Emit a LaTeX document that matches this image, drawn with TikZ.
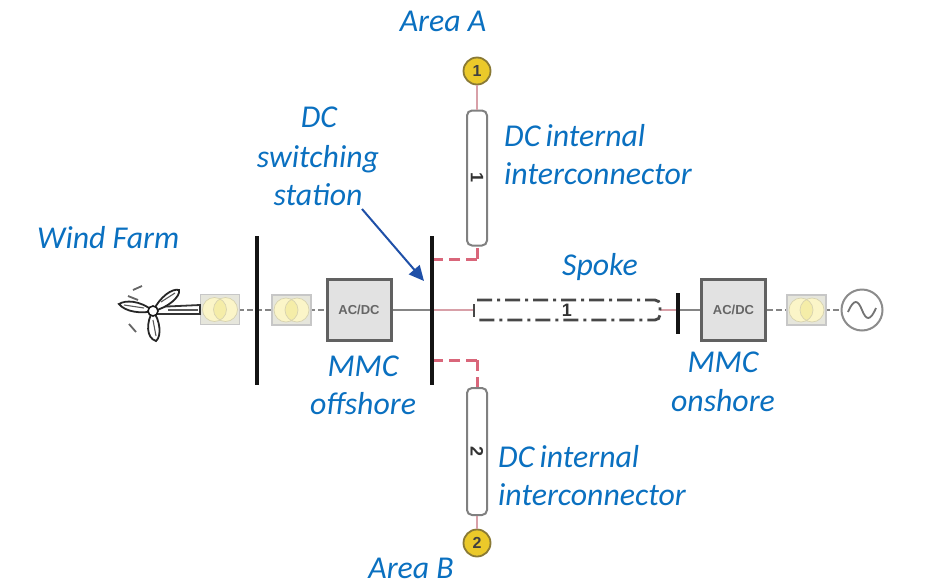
\documentclass[tikz,border=0pt]{standalone}
\usepackage{fontspec}
\setmainfont{Carlito}
\setsansfont{Liberation Sans}
\usetikzlibrary{arrows.meta}
\definecolor{lbl}{HTML}{0A70C0}
\definecolor{arrowblue}{HTML}{1F50A8}
\definecolor{redline}{HTML}{D9667A}
\definecolor{pinkline}{HTML}{D8A0A8}
\definecolor{grayline}{HTML}{858585}
\definecolor{boxfill}{HTML}{E2E2E2}
\definecolor{tfill}{HTML}{E6E6DC}
\definecolor{tyel}{HTML}{FBF5C8}
\definecolor{tyel2}{HTML}{F5EDA8}
\definecolor{tedge}{HTML}{D8D3B0}
\definecolor{gold}{HTML}{EBC92A}
\definecolor{goldring}{HTML}{8A7A35}
\tikzset{
  x=1pt,y=-1pt,
  lab/.style={font=\fontsize{31.8}{38}\selectfont\itshape,text=lbl,align=left,inner sep=0pt},
  bus/.style={line width=3.6pt,black!92},
  conv/.style={draw=black!62,line width=3pt,fill=boxfill,minimum width=64pt,minimum height=61pt,inner sep=0pt,font=\sffamily\bfseries\fontsize{13}{13}\selectfont,text=black!60},
  tbox/.style={draw=black!22,line width=1.6pt,fill=tfill,minimum width=39pt,minimum height=30pt,inner sep=0pt},
  cable/.style={draw=black!50,line width=2pt,fill=white,rounded corners=5pt,minimum width=20pt,inner sep=0pt},
  busnum/.style={circle,draw=goldring,line width=1.8pt,fill=gold,minimum size=27pt,inner sep=0pt,font=\sffamily\bfseries\fontsize{16}{16}\selectfont,text=black!75},
  cablenum/.style={font=\sffamily\bfseries\fontsize{18}{18}\selectfont,text=black!80,inner sep=0pt},
  gline/.style={draw=grayline,line width=1.8pt},
  gdash/.style={draw=grayline,line width=1.8pt,dash pattern=on 6pt off 3pt},
  pink/.style={draw=pinkline,line width=1.8pt},
  rdash/.style={draw=redline,line width=3pt,dash pattern=on 11pt off 6pt},
  spk/.style={draw=black!72,line width=2.8pt,dash pattern=on 15pt off 5pt on 3pt off 5pt},
  blade/.style={draw=black!85,line width=1.8pt,fill=white},
}
\newcommand{\xfmr}[3]{%
  \node[tbox] (#1) at (#2,#3) {};
  \fill[tyel] (#2-5.5,#3) circle (12pt);
  \fill[tyel] (#2+5.5,#3) circle (12pt);
  \begin{scope}
    \clip (#2-5.5,#3) circle (12pt);
    \fill[tyel2] (#2+5.5,#3) circle (12pt);
  \end{scope}
  \draw[tedge,line width=0.7pt] (#2-5.5,#3) circle (12pt) (#2+5.5,#3) circle (12pt);
}
\begin{document}
\begin{tikzpicture}
\useasboundingbox (0,0) rectangle (946,587);
\fill[white] (0,0) rectangle (946,587);

% coordinates
\coordinate (busAtop) at (257,236); \coordinate (busAbot) at (257,385);
\coordinate (busBtop) at (432,236); \coordinate (busBbot) at (432,385);
\coordinate (busCtop) at (678,293); \coordinate (busCbot) at (678,334);
\coordinate (hubc) at (153,311);
\coordinate (spkL) at (474,310); \coordinate (spkR) at (660,310);
\coordinate (tapT) at (432,259); \coordinate (cornT) at (477,259);
\coordinate (tapB) at (432,360); \coordinate (cornB) at (477,360);
\coordinate (busBmid) at (432,310); \coordinate (busCmid) at (678,310);

% equipment
\node[conv] (mmcoff) at (359,310) {AC/DC};
\node[conv] (mmcon) at (733.5,310) {AC/DC};
\node[cable,minimum height=135pt] (cableT) at (477,178) {};
\node[cable,minimum height=127pt] (cableB) at (477,451.5) {};
\node[busnum] (nA) at (477,71) {1};
\node[busnum] (nB) at (477,543) {2};
\node[cablenum,rotate=-90] at (cableT.center) {1};
\node[cablenum,rotate=-90] at (cableB.center) {2};
\node[circle,draw=black!45,line width=2pt,fill=white,minimum size=41pt,inner sep=0pt] (gen) at (862,310) {};
\draw[black!55,line width=1.8pt] (848,312) .. controls (854,298) and (858,300) .. (862,310) .. controls (866,320) and (870,322) .. (876,308);

% connectors, behind transformers
\draw[gdash] (220,310) -- (291,310);
\draw[gdash] (291,310) -- (mmcoff.west);
\draw[gline] (mmcoff.east) -- (busBmid);
\draw[pink] (busBmid) -- (spkL);
\draw[pink] (spkR) -- (busCmid);
\draw[gline] (busCmid) -- (mmcon.west);
\draw[gdash] (mmcon.east) -- (806,310);
\draw[gdash] (806,310) -- (gen.west);
\draw[pink] (nA.south) -- (cableT.north);
\draw[pink] (cableB.south) -- (nB.north);
\draw[rdash] (tapT) -- (cornT);
\draw[rdash] (cornT) -- (cableT.south);
\draw[rdash] (tapB) -- (cornB);
\draw[rdash] (cornB) -- (cableB.north);

% transformers
\xfmr{t1}{220}{309.5}
\xfmr{t2}{291.5}{310}
\xfmr{t3}{806.5}{310}

% busbars
\draw[bus] (busAtop) -- (busAbot);
\draw[bus] (busBtop) -- (busBbot);
\draw[bus] (busCtop) -- (busCbot);

% spoke
\draw[spk,rounded corners=5pt] (spkL) ++(3,-10) -- ++(183,0) -- ++(0,20) -- ++(-183,0);
\draw[black!72,line width=2.6pt] (474,304) -- (474,317);
\node[cablenum] at (567,310) {1};

% wind turbine
\draw[black!80,line width=1.8pt,fill=white] (hubc) ++(3,-4) -- (200,305) -- (200,314) -- (156,314) -- cycle;
\draw[black!65,line width=1.4pt] (168,310) -- (198,310);
\draw[blade] (hubc) .. controls (160,297) and (172,288) .. (179,290) .. controls (181,296) and (168,308) .. (hubc);
\draw[black!65,line width=1.1pt] (161,302) -- (175,293);
\draw[blade] (hubc) .. controls (140,300) and (125,300) .. (119,304) .. controls (125,312) and (142,314) .. (hubc);
\draw[black!65,line width=1.1pt] (124,305) -- (144,308);
\draw[blade] (hubc) .. controls (146,322) and (146,338) .. (156,341) .. controls (162,336) and (160,320) .. (hubc);
\draw[black!65,line width=1.1pt] (153,320) -- (156,336);
\draw[black!60,line width=1.8pt] (128,296) -- (138,300) (133,290) -- (142,286) (129,324) -- (136,332);
\draw[black!90,line width=1.6pt,fill=white] (hubc) circle (5pt);

% arrow
\coordinate (arrS) at (362,209); \coordinate (arrE) at (424,281);
\draw[arrowblue,line width=2pt,-{Triangle[length=15pt,width=14pt]}] (arrS) -- (arrE);

% labels
\node[lab,anchor=base] (lA) at (443,31) {Area A};
\node[lab,anchor=base] (lB) at (411,578) {Area B};
\node[lab,anchor=base west] (lWF) at (37,248) {Wind Farm};
\node[lab,anchor=base] (lsw1) at (319,127) {DC};
\node[lab,anchor=base] (lsw2) at (318,167) {switching};
\node[lab,anchor=base] (lsw3) at (318,205) {station};
\node[lab,anchor=base west] (lda1) at (504,146) {DC\kern-2pt\ internal};
\node[lab,anchor=base west] (lda2) at (504,184) {interconnector};
\node[lab,anchor=base west] (ldb1) at (498,467) {DC\kern-2pt\ internal};
\node[lab,anchor=base west] (ldb2) at (498,505) {interconnector};
\node[lab,anchor=base] (lspoke) at (600,275) {Spoke};
\node[lab,anchor=base] (lm1) at (363,376) {MMC};
\node[lab,anchor=base] (lm2) at (363,414) {offshore};
\node[lab,anchor=base] (lm3) at (723,372) {MMC};
\node[lab,anchor=base] (lm4) at (723,411) {onshore};
\end{tikzpicture}
\end{document}
